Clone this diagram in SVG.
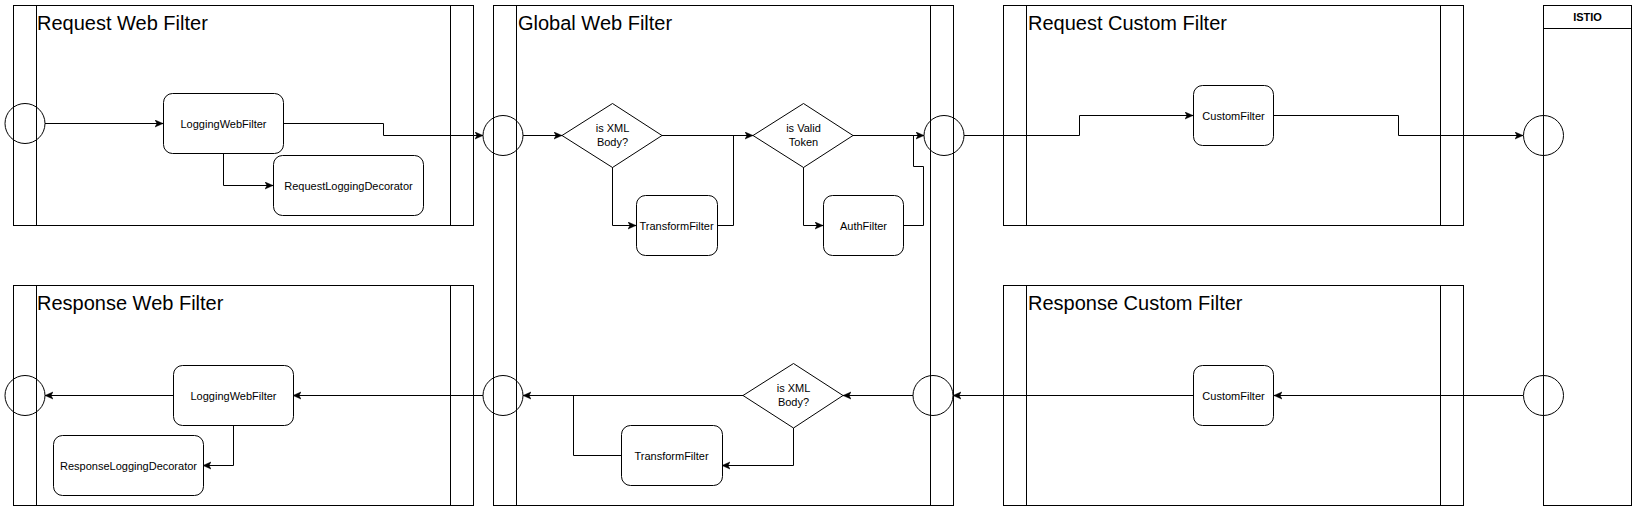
<svg xmlns="http://www.w3.org/2000/svg" width="1640" height="512" viewBox="0 0 1640 512">
<style>
.pool{fill:#fff;stroke:#000;stroke-width:1}
.lane{fill:none;stroke:#000;stroke-width:1}
.node{fill:#fff;stroke:#000;stroke-width:1}
.ev{fill:none;stroke:#000;stroke-width:1}
.title{font-family:"Liberation Sans",Arial,sans-serif;font-size:20px;fill:#000}
.lbl{font-family:"Liberation Sans",Arial,sans-serif;font-size:11px;fill:#000;text-anchor:middle}
.hdr{font-family:"Liberation Sans",Arial,sans-serif;font-size:11px;font-weight:bold;fill:#000;text-anchor:middle}
.e{fill:none;stroke:#000;stroke-width:1}
.a{marker-end:url(#arr)}
</style>
<defs>
<marker id="arr" markerUnits="userSpaceOnUse" markerWidth="10" markerHeight="10" refX="8" refY="4" orient="auto">
<path d="M0,0.5 L8,4 L0,7.5 L2,4 Z" fill="#000" stroke="#000" stroke-width="0.5"/>
</marker>
</defs>
<rect width="1640" height="512" fill="#fff"/>

<g id="pool-request-web">
<rect class="pool" x="13.5" y="5.5" width="460" height="220"/>
<line class="lane" x1="36.5" y1="5.5" x2="36.5" y2="225.5"/>
<line class="lane" x1="450.5" y1="5.5" x2="450.5" y2="225.5"/>
<text class="title" x="37" y="30">Request Web Filter</text>
</g>
<g id="pool-response-web">
<rect class="pool" x="13.5" y="285.5" width="460" height="220"/>
<line class="lane" x1="36.5" y1="285.5" x2="36.5" y2="505.5"/>
<line class="lane" x1="450.5" y1="285.5" x2="450.5" y2="505.5"/>
<text class="title" x="37" y="310">Response Web Filter</text>
</g>
<g id="pool-global-web">
<rect class="pool" x="493.5" y="5.5" width="460" height="500"/>
<line class="lane" x1="516.5" y1="5.5" x2="516.5" y2="505.5"/>
<line class="lane" x1="930.5" y1="5.5" x2="930.5" y2="505.5"/>
<text class="title" x="518" y="30">Global Web Filter</text>
</g>
<g id="pool-request-custom">
<rect class="pool" x="1003.5" y="5.5" width="460" height="220"/>
<line class="lane" x1="1026.5" y1="5.5" x2="1026.5" y2="225.5"/>
<line class="lane" x1="1440.5" y1="5.5" x2="1440.5" y2="225.5"/>
<text class="title" x="1028" y="30">Request Custom Filter</text>
</g>
<g id="pool-response-custom">
<rect class="pool" x="1003.5" y="285.5" width="460" height="220"/>
<line class="lane" x1="1026.5" y1="285.5" x2="1026.5" y2="505.5"/>
<line class="lane" x1="1440.5" y1="285.5" x2="1440.5" y2="505.5"/>
<text class="title" x="1028" y="310">Response Custom Filter</text>
</g>
<g id="pool-istio">
<rect class="pool" x="1543.5" y="5.5" width="88" height="500"/>
<line class="lane" x1="1543.5" y1="28.5" x2="1631.5" y2="28.5"/>
<text class="hdr" x="1587.5" y="21">ISTIO</text>
</g>

<g id="connectors">
<path class="e a" d="M45,123.5 H163"/>
<path class="e a" d="M223.5,153 V185.5 H273"/>
<path class="e a" d="M283,123.5 H383.5 V135.5 H483"/>
<path class="e a" d="M523,135.5 H562"/>
<path class="e a" d="M612.5,167 V225.5 H636"/>
<path class="e a" d="M662,135.5 H753"/>
<path class="e" d="M717,225.5 H733.5 V135.5"/>
<path class="e a" d="M803.5,167 V225.5 H823"/>
<path class="e a" d="M853,135.5 H924"/>
<path class="e" d="M903,225.5 H923.5 V166.5 H913.5 V135.5"/>
<path class="e a" d="M964,135.5 H1079.5 V115.5 H1193"/>
<path class="e a" d="M1274,115.5 H1398.5 V135.5 H1523"/>
<path class="e a" d="M1523,395.5 H1274"/>
<path class="e a" d="M1193,395.5 H953"/>
<path class="e a" d="M913,395.5 H843"/>
<path class="e a" d="M743,395.5 H523"/>
<path class="e a" d="M793.5,428 V465.5 H722"/>
<path class="e" d="M621,455.5 H573.5 V395.5"/>
<path class="e a" d="M483,395.5 H293"/>
<path class="e a" d="M173,395.5 H45"/>
<path class="e a" d="M233.5,425 V465.5 H203"/>
</g>

<g id="start-request"><circle class="ev" cx="25" cy="123.5" r="20"/></g>
<g id="req-logging-web-filter">
<rect class="node" x="163.5" y="93.5" width="120" height="60" rx="9"/>
<text class="lbl" x="223.5" y="127.5">LoggingWebFilter</text>
</g>
<g id="req-logging-decorator">
<rect class="node" x="273.5" y="155.5" width="150" height="60" rx="9"/>
<text class="lbl" x="348.5" y="189.5">RequestLoggingDecorator</text>
</g>

<g id="global-in-circle"><circle class="ev" cx="503" cy="135.5" r="20"/></g>
<g id="dec-xml-top">
<polygon class="node" points="562,135.5 612.5,103.5 662,135.5 612.5,167.5"/>
<text class="lbl" x="612.5" y="132">is XML</text>
<text class="lbl" x="612.5" y="146">Body?</text>
</g>
<g id="transform-top">
<rect class="node" x="636.5" y="195.5" width="81" height="60" rx="9"/>
<text class="lbl" x="676.5" y="229.5">TransformFilter</text>
</g>
<g id="dec-token">
<polygon class="node" points="753,135.5 803.5,103.5 853,135.5 803.5,167.5"/>
<text class="lbl" x="803.5" y="132">is Valid</text>
<text class="lbl" x="803.5" y="146">Token</text>
</g>
<g id="auth-filter">
<rect class="node" x="823.5" y="195.5" width="80" height="60" rx="9"/>
<text class="lbl" x="863.5" y="229.5">AuthFilter</text>
</g>
<g id="global-out-circle"><circle class="ev" cx="944" cy="135.5" r="20"/></g>

<g id="req-custom-filter">
<rect class="node" x="1193.5" y="85.5" width="80" height="60" rx="9"/>
<text class="lbl" x="1233.5" y="119.5">CustomFilter</text>
</g>
<g id="istio-in-circle"><circle class="ev" cx="1543.5" cy="135.5" r="20"/></g>
<g id="istio-out-circle"><circle class="ev" cx="1543.5" cy="395.5" r="20"/></g>
<g id="resp-custom-filter">
<rect class="node" x="1193.5" y="365.5" width="80" height="60" rx="9"/>
<text class="lbl" x="1233.5" y="399.5">CustomFilter</text>
</g>

<g id="global-resp-in-circle"><circle class="ev" cx="933" cy="395.5" r="20"/></g>
<g id="dec-xml-bottom">
<polygon class="node" points="743,395.5 793.5,363.5 843,395.5 793.5,428"/>
<text class="lbl" x="793.5" y="392">is XML</text>
<text class="lbl" x="793.5" y="406">Body?</text>
</g>
<g id="transform-bottom">
<rect class="node" x="621.5" y="425.5" width="101" height="60" rx="9"/>
<text class="lbl" x="671.5" y="459.5">TransformFilter</text>
</g>
<g id="global-resp-out-circle"><circle class="ev" cx="503" cy="395.5" r="20"/></g>

<g id="resp-logging-web-filter">
<rect class="node" x="173.5" y="365.5" width="120" height="60" rx="9"/>
<text class="lbl" x="233.5" y="399.5">LoggingWebFilter</text>
</g>
<g id="resp-logging-decorator">
<rect class="node" x="53.5" y="435.5" width="150" height="60" rx="9"/>
<text class="lbl" x="128.5" y="469.5">ResponseLoggingDecorator</text>
</g>
<g id="end-response"><circle class="ev" cx="25" cy="395.5" r="20"/></g>
</svg>
